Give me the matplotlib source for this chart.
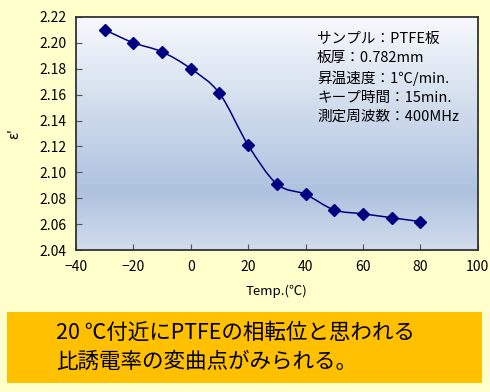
import numpy as np
import matplotlib.pyplot as plt
from matplotlib.path import Path
from matplotlib.patches import PathPatch, Rectangle
from matplotlib.colors import LinearSegmentedColormap

plt.rcParams['font.family'] = ['Noto Sans CJK JP', 'DejaVu Sans']

temp = [-30, -20, -10, 0, 10, 20, 30, 40, 50, 60, 70, 80]
eps = [2.210, 2.200, 2.193, 2.180, 2.161, 2.121, 2.091, 2.083, 2.071, 2.068, 2.065, 2.062]
xticks = [-40, -20, 0, 20, 40, 60, 80, 100]
yticks = [2.04, 2.06, 2.08, 2.10, 2.12, 2.14, 2.16, 2.18, 2.20, 2.22]
info = ["サンプル：PTFE板", "板厚：0.782mm", "昇温速度：1℃/min.", "キープ時間：15min.", "測定周波数：400MHz"]
note = ["20 ℃付近にPTFEの相転位と思われる", "比誘電率の変曲点がみられる。"]

fig = plt.figure(figsize=(4.9, 3.92), dpi=100)
fig.patch.set_facecolor('#FFFFCC')
ax = fig.add_axes([0.155, 0.362, 0.82, 0.595])

# gradient background of the plot area
bg = LinearSegmentedColormap.from_list("bg", [(0, "#D2DDEC"), (0.25, "#AEC2DF"), (1, "#F7F9FC")])
ax.imshow(np.linspace(0, 1, 256).reshape(-1, 1), cmap=bg, origin='lower', aspect='auto',
          extent=(-40, 100, 2.04, 2.22), zorder=0)

# smooth line through the points (Catmull-Rom as Bezier)
pts = np.column_stack([temp, eps])
ext = np.vstack([pts[0], pts, pts[-1]])
verts = [pts[0]]
codes = [Path.MOVETO]
for i in range(len(pts) - 1):
    p0, p1, p2, p3 = ext[i], ext[i + 1], ext[i + 2], ext[i + 3]
    verts += [p1 + (p2 - p0) / 6, p2 - (p3 - p1) / 6, p2]
    codes += [Path.CURVE4] * 3
ax.add_patch(PathPatch(Path(verts, codes), fill=False, edgecolor='#000080', lw=1.1, zorder=2))
ax.plot(temp, eps, ls='none', marker='D', ms=6, color='#000080', zorder=3)

ax.set_xlim(-40, 100)
ax.set_ylim(2.04, 2.22)
ax.set_xticks(xticks)
ax.set_yticks(yticks)
ax.set_xticklabels([str(t).replace('-', '\u2212') for t in xticks])
ax.set_yticklabels([f"{v:.2f}" for v in yticks])
ax.tick_params(direction='in', length=4, width=0.8, color='#555555', labelsize=10, pad=7)
for s in ax.spines.values():
    s.set_linewidth(1.3)
    s.set_color('#333333')
ax.set_xlabel("Temp.(℃)", fontsize=9.5, labelpad=8)
ax.set_ylabel("ε'", fontsize=10, labelpad=13)

ax.text(0.60, 0.935, "\n".join(info), transform=ax.transAxes, fontsize=10.5,
        va='top', ha='left', linespacing=1.45)

fig.patches.append(Rectangle((0.0143, 0.023), 0.969, 0.181, transform=fig.transFigure,
                             facecolor='#FFC000', edgecolor='none', zorder=0))
fig.text(0.114, 0.150, note[0], fontsize=15.5, va='center', ha='left')
fig.text(0.114, 0.076, note[1], fontsize=15.5, va='center', ha='left')

fig.savefig('out.png', dpi=100, facecolor=fig.get_facecolor())
